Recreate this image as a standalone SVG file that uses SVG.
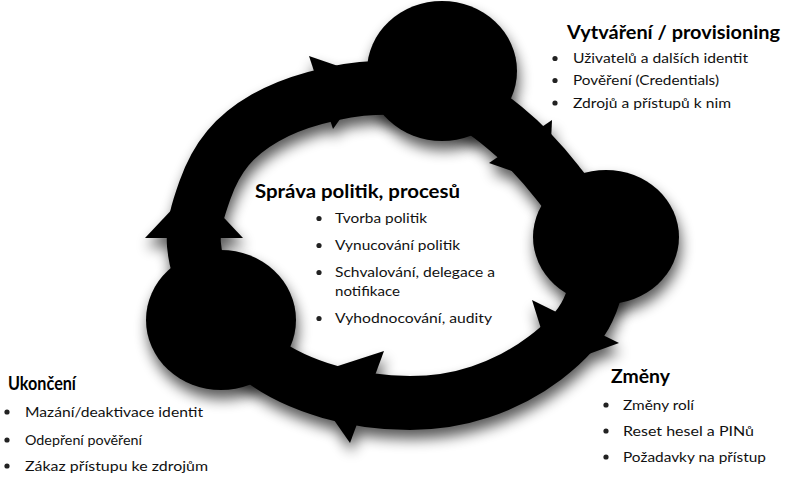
<svg xmlns="http://www.w3.org/2000/svg" width="785" height="478" viewBox="0 0 785 478">
<defs>
<filter id="sh" x="-30%" y="-30%" width="160%" height="170%">
<feGaussianBlur in="SourceAlpha" stdDeviation="7"/>
<feOffset dx="2" dy="9"/>
<feComponentTransfer><feFuncA type="linear" slope="0.65"/></feComponentTransfer>
<feMerge><feMergeNode/><feMergeNode in="SourceGraphic"/></feMerge>
</filter>
<style>
.ring{fill:none;stroke:#000;stroke-width:54}
.head{fill:#000}
.node{fill:#000}
.title{font-family:Lato,"Liberation Sans",sans-serif;font-weight:700;font-size:19px;fill:#000}
.item{font-family:Lato,"Liberation Sans",sans-serif;font-size:14px;fill:#111}
.dot{fill:#222}
</style>
</defs>
<rect width="785" height="478" fill="#fff"/>
<g id="connectors" filter="url(#sh)">
<path class="ring" d="M194,245 C192.3,225.8 199.3,206.2 205,190 C210.7,173.8 218,160 228,148 C238,136 250.5,126.3 265,118 C279.5,109.7 296.7,103 315,98 C333.3,93 352.5,88.5 375,88 C397.5,87.5 428.3,88.3 450,95 C471.7,101.7 487.2,113.5 505,128 C522.8,142.5 541.7,162.5 557,182 C572.3,201.5 591.8,223.7 597,245 C602.2,266.3 596.7,291.2 588,310 C579.3,328.8 563,344.3 545,358 C527,371.7 502.5,384.5 480,392 C457.5,399.5 435,403 410,403 C385,403 354.7,399.2 330,392 C305.3,384.8 281.2,374.5 262,360 C242.8,345.5 226.3,324.2 215,305 C203.7,285.8 195.7,264.2 194,245 Z"/>
<polygon class="head" points="145,238 243,238 194,186"/>
<polygon class="head" points="309,56 333,129 370,77"/>
<polygon class="head" points="552,120 489,163 549,184"/>
<polygon class="head" points="532,300 619,343 553,367"/>
<polygon class="head" points="384,351 350,443 304,377"/>
</g>
<g id="node-vytvareni">
<ellipse class="node" cx="442" cy="71" rx="75" ry="70" filter="url(#sh)"/>
<text class="title" x="567" y="39" textLength="213" lengthAdjust="spacingAndGlyphs">Vytváření / provisioning</text>
<circle class="dot" cx="555" cy="58.5" r="2.6"/>
<circle class="dot" cx="555" cy="80.5" r="2.6"/>
<circle class="dot" cx="555" cy="103" r="2.6"/>
<text class="item" x="573" y="63" textLength="175" lengthAdjust="spacingAndGlyphs">Uživatelů a dalších identit</text>
<text class="item" x="573" y="85" textLength="146" lengthAdjust="spacingAndGlyphs">Pověření (Credentials)</text>
<text class="item" x="573" y="108" textLength="158" lengthAdjust="spacingAndGlyphs">Zdrojů a přístupů k nim</text>
</g>
<g id="node-zmeny">
<ellipse class="node" cx="606" cy="237" rx="73" ry="67" filter="url(#sh)"/>
<text class="title" x="611" y="383" textLength="59" lengthAdjust="spacingAndGlyphs">Změny</text>
<circle class="dot" cx="606" cy="405" r="2.6"/>
<circle class="dot" cx="606" cy="431" r="2.6"/>
<circle class="dot" cx="606" cy="457" r="2.6"/>
<text class="item" x="623" y="410" textLength="71" lengthAdjust="spacingAndGlyphs">Změny rolí</text>
<text class="item" x="623" y="436" textLength="131" lengthAdjust="spacingAndGlyphs">Reset hesel a PINů</text>
<text class="item" x="623" y="462" textLength="143" lengthAdjust="spacingAndGlyphs">Požadavky na přístup</text>
</g>
<g id="node-ukonceni">
<ellipse class="node" cx="221" cy="320" rx="75" ry="70" filter="url(#sh)"/>
<text class="title" x="8" y="390" textLength="68" lengthAdjust="spacingAndGlyphs">Ukončení</text>
<circle class="dot" cx="7" cy="412" r="2.6"/>
<circle class="dot" cx="7" cy="440" r="2.6"/>
<circle class="dot" cx="7" cy="466" r="2.6"/>
<text class="item" x="25" y="417" textLength="178" lengthAdjust="spacingAndGlyphs">Mazání/deaktivace identit</text>
<text class="item" x="25" y="445" textLength="117" lengthAdjust="spacingAndGlyphs">Odepření pověření</text>
<text class="item" x="25" y="471" textLength="183" lengthAdjust="spacingAndGlyphs">Zákaz přístupu ke zdrojům</text>
</g>
<g id="node-sprava">
<text class="title" x="255" y="198" textLength="205" lengthAdjust="spacingAndGlyphs">Správa politik, procesů</text>
<circle class="dot" cx="319" cy="218.5" r="2.6"/>
<circle class="dot" cx="319" cy="245.5" r="2.6"/>
<circle class="dot" cx="319" cy="272.5" r="2.6"/>
<circle class="dot" cx="319" cy="318.5" r="2.6"/>
<text class="item" x="335" y="223" textLength="92" lengthAdjust="spacingAndGlyphs">Tvorba politik</text>
<text class="item" x="335" y="250" textLength="125" lengthAdjust="spacingAndGlyphs">Vynucování politik</text>
<text class="item" x="335" y="277" textLength="160" lengthAdjust="spacingAndGlyphs">Schvalování, delegace a</text>
<text class="item" x="335" y="296" textLength="65" lengthAdjust="spacingAndGlyphs">notifikace</text>
<text class="item" x="335" y="323" textLength="157" lengthAdjust="spacingAndGlyphs">Vyhodnocování, audity</text>
</g>
</svg>
